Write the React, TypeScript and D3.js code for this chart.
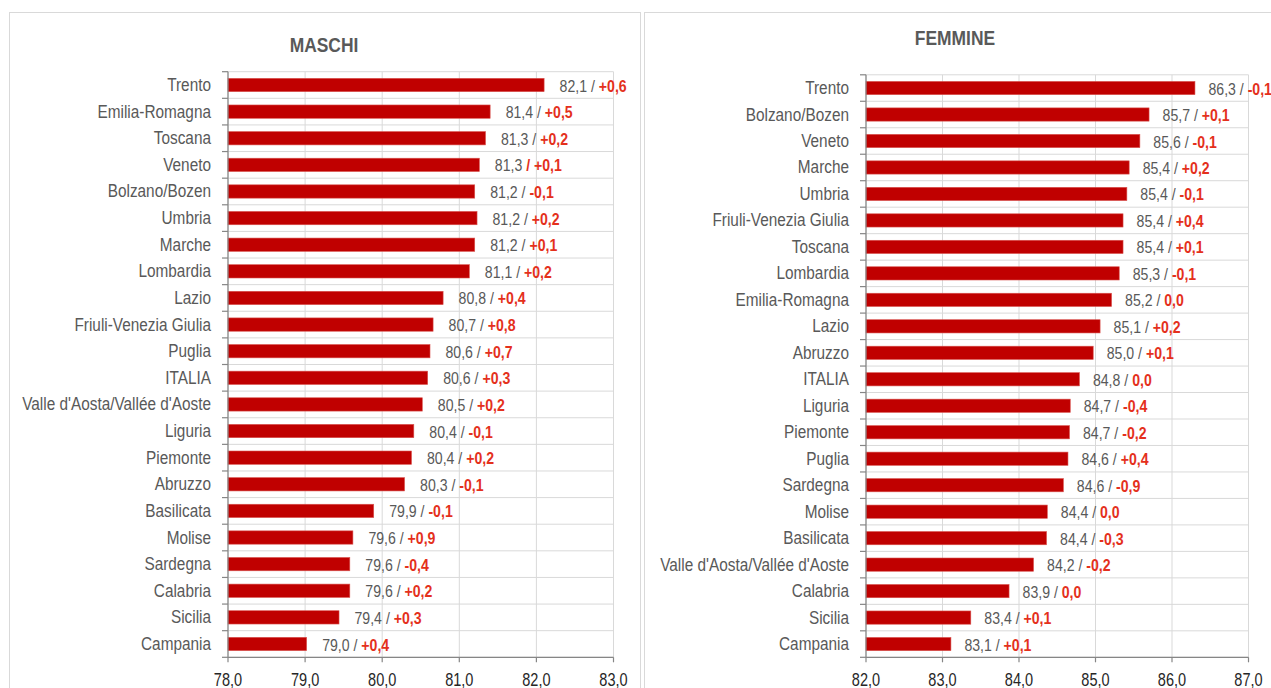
import React from "react";
import * as d3 from "d3";

const maschiRegions = [
  "Trento", "Emilia-Romagna", "Toscana", "Veneto", "Bolzano/Bozen", "Umbria", "Marche",
  "Lombardia", "Lazio", "Friuli-Venezia Giulia", "Puglia", "ITALIA",
  "Valle d'Aosta/Vallée d'Aoste", "Liguria", "Piemonte", "Abruzzo", "Basilicata",
  "Molise", "Sardegna", "Calabria", "Sicilia", "Campania",
];
const maschiValues = [
  82.1, 81.4, 81.34, 81.26, 81.2, 81.23, 81.2, 81.13, 80.79, 80.66, 80.62, 80.59,
  80.52, 80.41, 80.38, 80.29, 79.89, 79.62, 79.58, 79.58, 79.44, 79.02,
];
const maschiDelta = [
  "+0,6", "+0,5", "+0,2", "+0,1", "-0,1", "+0,2", "+0,1", "+0,2", "+0,4", "+0,8", "+0,7", "+0,3",
  "+0,2", "-0,1", "+0,2", "-0,1", "-0,1", "+0,9", "-0,4", "+0,2", "+0,3", "+0,4",
];
const maschiRedSlash = ["Veneto"];
const maschiTicks = [78, 79, 80, 81, 82, 83];

const femmineRegions = [
  "Trento", "Bolzano/Bozen", "Veneto", "Marche", "Umbria", "Friuli-Venezia Giulia", "Toscana",
  "Lombardia", "Emilia-Romagna", "Lazio", "Abruzzo", "ITALIA", "Liguria", "Piemonte", "Puglia",
  "Sardegna", "Molise", "Basilicata", "Valle d'Aosta/Vallée d'Aoste", "Calabria", "Sicilia", "Campania",
];
const femmineValues = [
  86.3, 85.7, 85.58, 85.44, 85.41, 85.36, 85.36, 85.31, 85.21, 85.06, 84.97, 84.79,
  84.67, 84.66, 84.64, 84.58, 84.37, 84.36, 84.19, 83.87, 83.37, 83.11,
];
const femmineDelta = [
  "-0,1", "+0,1", "-0,1", "+0,2", "-0,1", "+0,4", "+0,1", "-0,1", "0,0", "+0,2", "+0,1", "0,0",
  "-0,4", "-0,2", "+0,4", "-0,9", "0,0", "-0,3", "-0,2", "0,0", "+0,1", "+0,1",
];
const femmineRedSlash: string[] = [];
const femmineTicks = [82, 83, 84, 85, 86, 87];

const FONT = "'Liberation Sans', Arial, sans-serif";
const SX = 0.83;
const BAR = "#c00000";
const GRID = "#d9d9d9";
const AXIS = "#868686";
const LABEL = "#595959";
const RED = "#e4301c";

const fmt = (v: number) => d3.format(".1f")(v).replace(".", ",");

function T(props: {
  x: number; y: number; anchor?: string; size: number; fill?: string; bold?: boolean; children: React.ReactNode;
}) {
  return (
    <text transform={`translate(${props.x},${props.y}) scale(${SX},1)`} textAnchor={props.anchor || "start"}
      dominantBaseline="central" fontFamily={FONT} fontSize={props.size}
      fontWeight={props.bold ? "bold" : "normal"} fill={props.fill}>
      {props.children}
    </text>
  );
}

type PanelProps = {
  title: string;
  titleX: number;
  titleY: number;
  regions: string[];
  values: number[];
  deltas: string[];
  redSlash: string[];
  ticks: number[];
  x0: number;
  x1: number;
  y0: number;
  y1: number;
  gap: number;
};

function Panel(p: PanelProps) {
  const x = d3.scaleLinear().domain([p.ticks[0], p.ticks[p.ticks.length - 1]]).range([p.x0, p.x1]);
  const y = d3.scaleBand<string>().domain(p.regions).range([p.y0, p.y1]).paddingInner(0.5).paddingOuter(0.25);
  const step = y.step();
  const bounds = d3.range(p.regions.length + 1).map((i) => p.y0 + i * step);
  return (
    <g>
      <T x={p.titleX} y={p.titleY} anchor="middle" size={21} bold fill={LABEL}>{p.title}</T>
      {p.ticks.map((t) => (
        <line key={"v" + t} x1={x(t)} x2={x(t)} y1={p.y0} y2={p.y1} stroke={GRID} strokeWidth={1} />
      ))}
      {bounds.map((b, i) => (
        <line key={"h" + i} x1={p.x0} x2={p.x1} y1={b} y2={b} stroke={GRID} strokeWidth={1} />
      ))}
      {p.regions.map((r, i) => (
        <rect key={"b" + r} x={x(p.ticks[0])} y={y(r)} width={x(p.values[i]) - x(p.ticks[0])}
          height={y.bandwidth()} fill={BAR} stroke="#d9534f" strokeWidth={0.6} />
      ))}
      <line x1={p.x0} x2={p.x0} y1={p.y0} y2={p.y1} stroke={AXIS} strokeWidth={1.2} />
      {bounds.map((b, i) => (
        <line key={"yt" + i} x1={p.x0 - 6} x2={p.x0} y1={b} y2={b} stroke={AXIS} strokeWidth={1.2} />
      ))}
      <line x1={p.x0} x2={p.x1} y1={p.y1} y2={p.y1} stroke={AXIS} strokeWidth={1.2} />
      {p.ticks.map((t) => (
        <g key={"xt" + t}>
          <line x1={x(t)} x2={x(t)} y1={p.y1} y2={p.y1 + 5} stroke={AXIS} strokeWidth={1.2} />
          <T x={x(t)} y={p.y1 + 22} anchor="middle" size={17.5} fill="#262626">{fmt(t)}</T>
        </g>
      ))}
      {p.regions.map((r, i) => {
        const cy = (y(r) as number) + y.bandwidth() / 2;
        const redSlash = p.redSlash.includes(r);
        return (
          <g key={"l" + r}>
            <T x={p.x0 - 17} y={cy} anchor="end" size={18.5} fill={LABEL}>{r}</T>
            <T x={x(p.values[i]) + p.gap} y={cy} size={17}>
              <tspan fill={LABEL}>{fmt(p.values[i]) + (redSlash ? " " : " / ")}</tspan>
              <tspan fill={RED} fontWeight="bold">{(redSlash ? "/ " : "") + p.deltas[i]}</tspan>
            </T>
          </g>
        );
      })}
    </g>
  );
}

export default function App() {
  return (
    <svg width={1271} height={688} style={{ position: "absolute", left: 0, top: 0, background: "#fff" }}>
      <rect x={0} y={0} width={1271} height={688} fill="#fff" />
      <rect x={9.5} y={12.5} width={631} height={700} fill="none" stroke={GRID} strokeWidth={1} />
      <rect x={644.5} y={12.5} width={700} height={700} fill="none" stroke={GRID} strokeWidth={1} />
      <Panel title="MASCHI" titleX={324} titleY={45} regions={maschiRegions} values={maschiValues}
        deltas={maschiDelta} redSlash={maschiRedSlash} ticks={maschiTicks}
        x0={228} x1={613.5} y0={71.7} y1={657.3} gap={15.5} />
      <Panel title="FEMMINE" titleX={955} titleY={38} regions={femmineRegions} values={femmineValues}
        deltas={femmineDelta} redSlash={femmineRedSlash} ticks={femmineTicks}
        x0={866} x1={1248.5} y0={74.8} y1={657.3} gap={13.5} />
    </svg>
  );
}
